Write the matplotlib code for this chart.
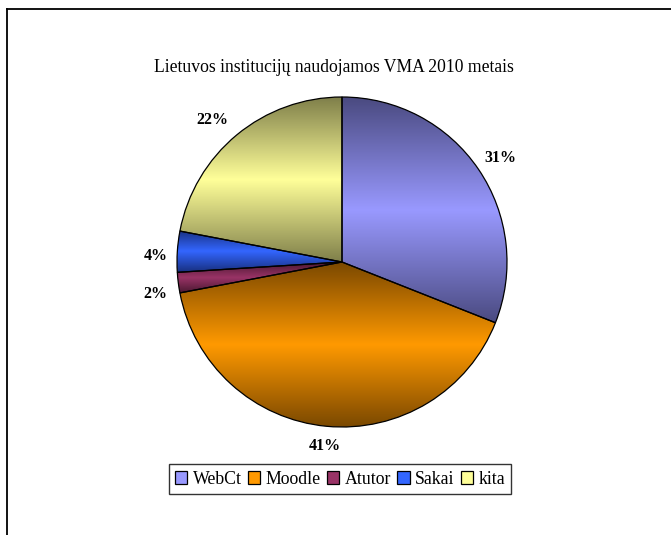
import numpy as np
import matplotlib
matplotlib.use("Agg")
import matplotlib.pyplot as plt
from matplotlib.colors import LinearSegmentedColormap
from matplotlib.patches import Patch
from matplotlib.lines import Line2D

# data
labels = ["WebCt", "Moodle", "Atutor", "Sakai", "kita"]
shares = [31, 41, 2, 4, 22]
title = "Lietuvos institucijų naudojamos VMA 2010 metais"

# style
light = ["#9999FF", "#FF9900", "#993366", "#3366FF", "#FFFF99"]
dark = ["#4A4A80", "#7A4800", "#4A1830", "#183080", "#7F7F4A"]
label_shift = [-1.0, 0, 2.6, 1.8, 2.7]   # degrees, to mimic Excel's label placement
label_dist = [1.15, 1.12, 1.15, 1.13, 1.165]

plt.rcParams["font.family"] = ["Liberation Serif", "DejaVu Serif"]

W, H = 671, 535
fig = plt.figure(figsize=(W / 100, H / 100), dpi=100)
fig.patch.set_facecolor("white")

# outer frame (top and left only visible)
fig.add_artist(Line2D([7 / W, 1], [1 - 9 / H, 1 - 9 / H], color="black", lw=1.3))
fig.add_artist(Line2D([7 / W, 7 / W], [0, 1 - 9 / H], color="black", lw=1.3))

cx, cy, half = 342, 273, 170
ax = fig.add_axes([(cx - half) / W, (cy - half) / H, 2 * half / W, 2 * half / H])
lim = half / 165
ax.set_aspect("equal")
ax.axis("off")

wedges, _ = ax.pie(shares, startangle=90, counterclock=False, radius=1,
                   wedgeprops=dict(facecolor="none", edgecolor="black", linewidth=0.9))

for w, lc, dc, share, shift, dist in zip(wedges, light, dark, shares, label_shift, label_dist):
    th = np.radians(np.linspace(w.theta1, w.theta2, 200))
    ys = np.concatenate([[0], np.sin(th)])
    xs = np.concatenate([[0], np.cos(th)])
    cmap = LinearSegmentedColormap.from_list("g", [dc, lc, dc])
    grad = np.linspace(0, 1, 256).reshape(-1, 1)
    im = ax.imshow(grad, cmap=cmap, aspect="auto", origin="lower",
                   extent=(xs.min(), xs.max(), ys.min(), ys.max()), zorder=1)
    im.set_clip_path(w)
    w.set_zorder(2)
    mid = np.radians((w.theta1 + w.theta2) / 2 + shift)
    ax.text(dist * np.cos(mid), dist * np.sin(mid), f"{share}%", ha="center", va="center",
            fontsize=11.5, fontweight="bold", color="black")
ax.set_xlim(-lim, lim)
ax.set_ylim(-lim, lim)

fig.text(334 / W, 1 - 68 / H, title, ha="center", va="center", fontsize=12.7)

handles = [Patch(facecolor=lc, edgecolor="black", linewidth=0.9) for lc in light]
leg = fig.legend(handles, labels, loc="center", bbox_to_anchor=(340 / W, 1 - 479 / H),
                 ncol=5, frameon=True, fancybox=False, shadow=False,
                 prop={"family": "Liberation Serif", "size": 12.8},
                 handlelength=0.7, handleheight=0.7, handletextpad=0.3, columnspacing=0.35,
                 borderpad=0.35, borderaxespad=0)
leg.get_frame().set_edgecolor("black")
leg.get_frame().set_linewidth(1.0)

fig.savefig("out.png", dpi=100, facecolor="white")
